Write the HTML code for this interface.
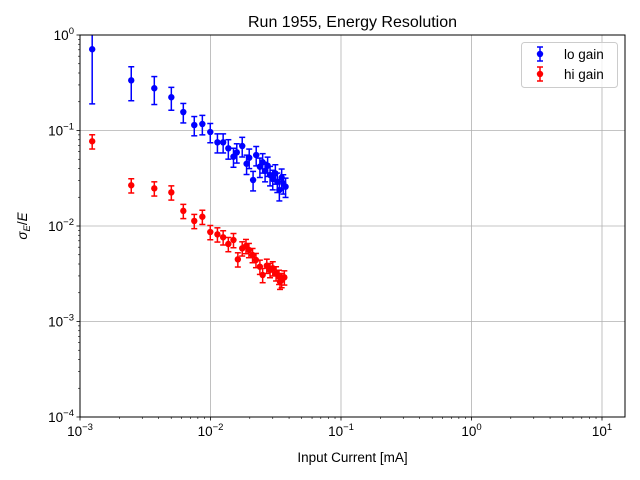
<!DOCTYPE html>
<html><head><meta charset="utf-8"><style>
html,body{margin:0;padding:0;background:#fff}
svg{display:block;font-family:"Liberation Sans","DejaVu Sans",sans-serif}
</style></head><body>
<svg id="chart" width="640" height="480" viewBox="0 0 640 480">
<rect width="640" height="480" fill="#fff"/>
<text x="352.5" y="27" font-size="16" text-anchor="middle">Run 1955, Energy Resolution</text>
<text x="352.5" y="462" font-size="13.5" text-anchor="middle">Input Current [mA]</text>
<text transform="translate(27,226) rotate(-90)" font-size="13.5" text-anchor="middle"><tspan font-style="italic">σ</tspan><tspan font-size="9.5" dy="3" font-style="italic">E</tspan><tspan dy="-3">/</tspan><tspan font-style="italic">E</tspan></text>
<g id="grid"></g><g id="ticks"></g><g id="series"></g>
<rect x="80" y="35" width="545" height="382" fill="none" stroke="#000" stroke-width="1"/>
<g>
<rect x="521.5" y="42.5" width="96" height="45" rx="3" fill="#fff" fill-opacity="0.8" stroke="#ccc"/>
<g>
<line x1="540" y1="47" x2="540" y2="61" stroke="#0000ff" stroke-width="1.5"/><line x1="537" y1="47" x2="543" y2="47" stroke="#0000ff" stroke-width="1.5"/><line x1="537" y1="61" x2="543" y2="61" stroke="#0000ff" stroke-width="1.5"/><circle cx="540" cy="54" r="3.2" fill="#0000ff"/>
<text x="564" y="59" font-size="13.5">lo gain</text></g>
<g>
<line x1="540" y1="67" x2="540" y2="81" stroke="#ff0000" stroke-width="1.5"/><line x1="537" y1="67" x2="543" y2="67" stroke="#ff0000" stroke-width="1.5"/><line x1="537" y1="81" x2="543" y2="81" stroke="#ff0000" stroke-width="1.5"/><circle cx="540" cy="74" r="3.2" fill="#ff0000"/>
<text x="564" y="79" font-size="13.5">hi gain</text></g>
</g>
</svg>
<script>
const loX=[1.24e-3,2.47e-3,3.71e-3,5.01e-3,6.19e-3,7.51e-3,8.66e-3,9.96e-3,1.13e-2,1.25e-2,1.37e-2,1.50e-2,1.59e-2,1.75e-2,1.89e-2,1.98e-2,2.12e-2,2.24e-2,2.39e-2,2.51e-2,2.62e-2,2.74e-2,2.86e-2,3.00e-2,3.14e-2,3.25e-2,3.37e-2,3.51e-2,3.61e-2,3.76e-2];
const loY=[0.71,0.335,0.277,0.223,0.156,0.114,0.117,0.0964,0.0752,0.0752,0.0651,0.0532,0.0591,0.0688,0.0449,0.0519,0.0303,0.0553,0.0418,0.0465,0.0377,0.0428,0.0342,0.0311,0.0356,0.0291,0.0238,0.0321,0.0280,0.0258];
const loErr=[0.52,0.13,0.09,0.06,0.036,0.026,0.027,0.022,0.017,0.017,0.015,0.012,0.0135,0.016,0.0103,0.012,0.007,0.0127,0.0096,0.0107,0.0087,0.0098,0.0079,0.0072,0.0082,0.0067,0.0055,0.0074,0.0064,0.0059];
const hiX=[1.24e-3,2.47e-3,3.71e-3,5.01e-3,6.19e-3,7.51e-3,8.66e-3,9.96e-3,1.13e-2,1.25e-2,1.37e-2,1.50e-2,1.62e-2,1.75e-2,1.87e-2,1.97e-2,2.10e-2,2.23e-2,2.39e-2,2.51e-2,2.70e-2,2.86e-2,3.00e-2,3.18e-2,3.35e-2,3.51e-2,3.68e-2,3.41e-2];
const hiY=[0.0771,0.0267,0.0248,0.0225,0.0144,0.0113,0.0125,0.00865,0.00818,0.00762,0.00648,0.00713,0.00448,0.00584,0.00618,0.00561,0.00497,0.00441,0.00375,0.00307,0.00384,0.00346,0.00361,0.00320,0.00294,0.00272,0.00290,0.00261];
const hiErrFrac=0.17;
const xTickExps=[-3,-2,-1,0,1];
const yTickExps=[-4,-3,-2,-1,0];

const NS="http://www.w3.org/2000/svg";
const L=80,R=625,T=35,B=417;
const xMinE=-3,xDec=130.5,yMaxE=0,yDec=95.5;
function sx(v){return L+(Math.log10(v)-xMinE)*xDec;}
function sy(v){return T+(yMaxE-Math.log10(v))*yDec;}
function mk(tag,attrs,parent){const e=document.createElementNS(NS,tag);for(const k in attrs)e.setAttribute(k,attrs[k]);parent.appendChild(e);return e;}
const grid=document.getElementById('grid'),ticks=document.getElementById('ticks'),ser=document.getElementById('series');
xTickExps.forEach(e=>{
  const x=sx(Math.pow(10,e));
  const g=mk('line',{x1:x,y1:T,x2:x,y2:B,stroke:'#b0b0b0','stroke-width':0.8},grid);
  
  
  mk('line',{x1:x,y1:B,x2:x,y2:B+3.5,stroke:'#000','stroke-width':0.8},ticks);
  const t=mk('text',{x:x,y:B+19,'font-size':13.5,'text-anchor':'middle'},ticks);
  
  
  t.innerHTML='10<tspan font-size="9.5" dy="-6">'+(e<0?'−'+(-e):e)+'</tspan>';
  for(let m=2;m<10;m++){const xm=sx(m*Math.pow(10,e));if(xm<R)mk('line',{x1:xm,y1:B,x2:xm,y2:B+2,stroke:'#000','stroke-width':0.6},ticks);}
});
yTickExps.forEach(e=>{
  const y=sy(Math.pow(10,e));
  const g=mk('line',{x1:L,y1:y,x2:R,y2:y,stroke:'#b0b0b0','stroke-width':0.8},grid);
  
  
  mk('line',{x1:L-3.5,y1:y,x2:L,y2:y,stroke:'#000','stroke-width':0.8},ticks);
  const t=mk('text',{x:L-6,y:y+5,'font-size':13.5,'text-anchor':'end'},ticks);
  
  
  t.innerHTML='10<tspan font-size="9.5" dy="-6">'+(e<0?'−'+(-e):e)+'</tspan>';
  if(e<0)for(let m=2;m<10;m++){const ym=sy(m*Math.pow(10,e));mk('line',{x1:L-2,y1:ym,x2:L,y2:ym,stroke:'#000','stroke-width':0.6},ticks);}
});
function drawPt(x,y,err,col,name){
  const g=mk('g',{},ser);
  
  
  const px=sx(x),py=sy(y);
  const top=Math.max(T,sy(y+err)),lo=y-err>0?Math.min(B,sy(y-err)):B;
  mk('line',{x1:px,y1:top,x2:px,y2:lo,stroke:col,'stroke-width':1.5},g);
  if(sy(y+err)>=T)mk('line',{x1:px-3,y1:top,x2:px+3,y2:top,stroke:col,'stroke-width':1.5},g);
  mk('line',{x1:px-3,y1:lo,x2:px+3,y2:lo,stroke:col,'stroke-width':1.5},g);
  mk('circle',{cx:px,cy:py,r:3.2,fill:col},g);
}
loX.forEach((x,i)=>drawPt(x,loY[i],loErr[i],'#0000ff','lo-gain-point'));
hiX.forEach((x,i)=>drawPt(x,hiY[i],hiY[i]*hiErrFrac,'#ff0000','hi-gain-point'));
</script>
</body></html>
